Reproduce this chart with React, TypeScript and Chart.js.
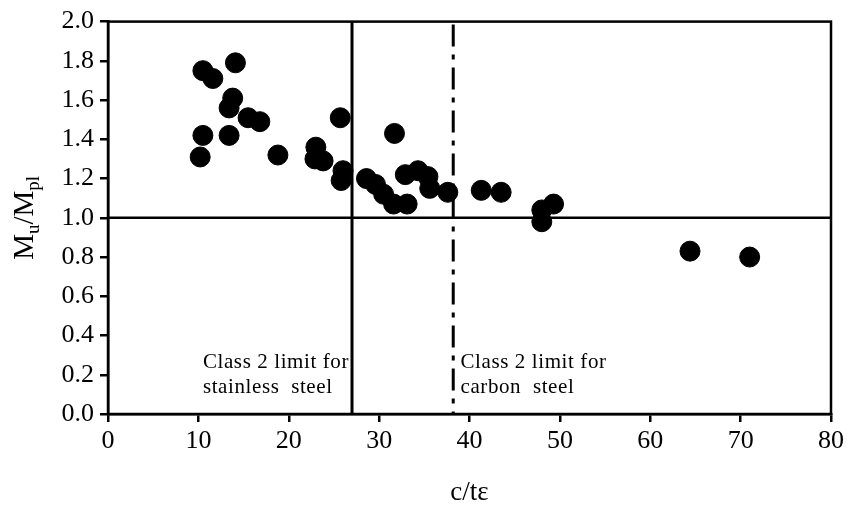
import React, { useEffect, useRef } from "react";
import { Chart, registerables } from "chart.js";

Chart.register(...registerables);

// Slenderness c/tε of each tested section and its normalised moment capacity Mu/Mpl
const slenderness = [
  10.5, 11.6, 14.1, 13.8, 13.4, 15.5, 16.8, 10.5, 13.4, 10.2, 18.8,
  25.7, 23.0, 22.9, 23.8, 26.0, 25.8, 28.6, 29.6, 30.5, 31.6, 33.1,
  31.7, 32.9, 34.3, 35.4, 35.6, 37.6, 41.3, 43.5, 48.0, 49.3, 48.0,
  64.4, 71.0,
];
const momentRatio = [
  1.75, 1.71, 1.79, 1.61, 1.56, 1.51, 1.49, 1.42, 1.42, 1.31, 1.32,
  1.51, 1.36, 1.30, 1.29, 1.24, 1.19, 1.20, 1.17, 1.12, 1.07, 1.07,
  1.43, 1.22, 1.24, 1.21, 1.15, 1.13, 1.14, 1.13, 1.04, 1.07, 0.98,
  0.83, 0.80,
];

// Class 2 slenderness limits and the Mu = Mpl reference level
const stainlessLimit = 27.0;
const carbonLimit = 38.2;
const plasticLevel = 1.0;

const stainlessLabel = ["Class 2 limit for", "stainless  steel"];
const carbonLabel = ["Class 2 limit for", "carbon  steel"];

const serif = "'Liberation Serif', 'Times New Roman', serif";

const overlayPlugin = {
  id: "overlay",
  beforeDatasetsDraw(chart: any) {
    const { ctx, chartArea, scales } = chart;
    const xs = scales.x;
    const ys = scales.y;
    ctx.save();
    // Annotations beside the two limit lines (drawn first so the limit lines sit on top)
    ctx.fillStyle = "#000";
    ctx.font = `21px ${serif}`;
    (ctx as any).letterSpacing = "0.6px";
    ctx.textBaseline = "alphabetic";
    ctx.textAlign = "left";
    const lx = xs.getPixelForValue(10.5);
    const rx = xs.getPixelForValue(39.0);
    const y1 = ys.getPixelForValue(0.235);
    const y2 = ys.getPixelForValue(0.105);
    ctx.fillText(stainlessLabel[0], lx, y1);
    ctx.fillText(stainlessLabel[1], lx, y2);
    ctx.fillText(carbonLabel[0], rx, y1);
    ctx.fillText(carbonLabel[1], rx, y2);
    (ctx as any).letterSpacing = "0px";

    // Reference lines
    ctx.strokeStyle = "#000";
    ctx.lineWidth = 2.5;
    const py = ys.getPixelForValue(plasticLevel);
    ctx.beginPath();
    ctx.moveTo(chartArea.left, py);
    ctx.lineTo(chartArea.right, py);
    ctx.stroke();

    ctx.lineWidth = 3;
    const sx = xs.getPixelForValue(stainlessLimit);
    ctx.beginPath();
    ctx.moveTo(sx, chartArea.top);
    ctx.lineTo(sx, chartArea.bottom);
    ctx.stroke();

    const cx = xs.getPixelForValue(carbonLimit);
    ctx.setLineDash([22, 8, 5, 8]);
    ctx.beginPath();
    ctx.moveTo(cx, chartArea.top + 3);
    ctx.lineTo(cx, chartArea.bottom);
    ctx.stroke();
    ctx.setLineDash([]);

    // Plot frame
    ctx.lineWidth = 2.5;
    ctx.strokeRect(
      chartArea.left,
      chartArea.top,
      chartArea.right - chartArea.left,
      chartArea.bottom - chartArea.top
    );
    ctx.restore();
  },
  afterDraw(chart: any) {
    const { ctx, chartArea } = chart;
    ctx.save();
    ctx.fillStyle = "#000";
    // x-axis title
    ctx.font = `27px ${serif}`;
    ctx.textAlign = "center";
    ctx.textBaseline = "alphabetic";
    ctx.fillText("c/tε", (chartArea.left + chartArea.right) / 2, 500);

    // y-axis title with subscripts: Mu/Mpl
    ctx.translate(33, (chartArea.top + chartArea.bottom) / 2);
    ctx.rotate(-Math.PI / 2);
    const big = `29px ${serif}`;
    const small = `19px ${serif}`;
    const parts: [string, boolean][] = [
      ["M", false],
      ["u", true],
      ["/M", false],
      ["pl", true],
    ];
    let total = 0;
    for (const [t, sub] of parts) {
      ctx.font = sub ? small : big;
      total += ctx.measureText(t).width;
    }
    let x = -total / 2;
    ctx.textAlign = "left";
    for (const [t, sub] of parts) {
      ctx.font = sub ? small : big;
      ctx.fillText(t, x, sub ? 6 : 0);
      x += ctx.measureText(t).width;
    }
    ctx.restore();
  },
};

export default function App() {
  const canvasRef = useRef<HTMLCanvasElement | null>(null);

  useEffect(() => {
    document.body.style.margin = "0";
    const canvas = canvasRef.current;
    if (!canvas) return;
    const points = slenderness.map((x, i) => ({ x, y: momentRatio[i] }));
    const chart = new Chart(canvas, {
      type: "scatter",
      data: {
        datasets: [
          {
            data: points,
            backgroundColor: "#000",
            borderColor: "#000",
            pointRadius: 10,
            pointHoverRadius: 10,
          },
        ],
      },
      options: {
        animation: false,
        responsive: false,
        events: [],
        layout: { padding: { top: 16, right: 19, left: 0, bottom: 0 } },
        plugins: {
          legend: { display: false },
          tooltip: { enabled: false },
        },
        scales: {
          x: {
            type: "linear",
            min: 0,
            max: 80,
            afterFit(scale: any) {
              scale.height = 92;
            },
            ticks: {
              stepSize: 10,
              color: "#000",
              font: { family: serif, size: 26 },
              padding: 4,
            },
            grid: {
              display: true,
              drawOnChartArea: false,
              drawTicks: true,
              tickLength: 8,
              color: "#000",
              lineWidth: 2.5,
            },
            border: { display: true, color: "#000", width: 2.5 },
          },
          y: {
            type: "linear",
            min: 0,
            max: 2,
            afterFit(scale: any) {
              scale.width = 108;
            },
            ticks: {
              stepSize: 0.2,
              color: "#000",
              font: { family: serif, size: 26 },
              padding: 6,
              callback: (v: any) => Number(v).toFixed(1),
            },
            grid: {
              display: true,
              drawOnChartArea: false,
              drawTicks: true,
              tickLength: 8,
              color: "#000",
              lineWidth: 2.5,
            },
            border: { display: true, color: "#000", width: 2.5 },
          },
        },
      },
      plugins: [overlayPlugin],
    });
    return () => chart.destroy();
  }, []);

  return (
    <div style={{ width: 850, height: 506 }}>
      <canvas ref={canvasRef} width={850} height={506} />
    </div>
  );
}
